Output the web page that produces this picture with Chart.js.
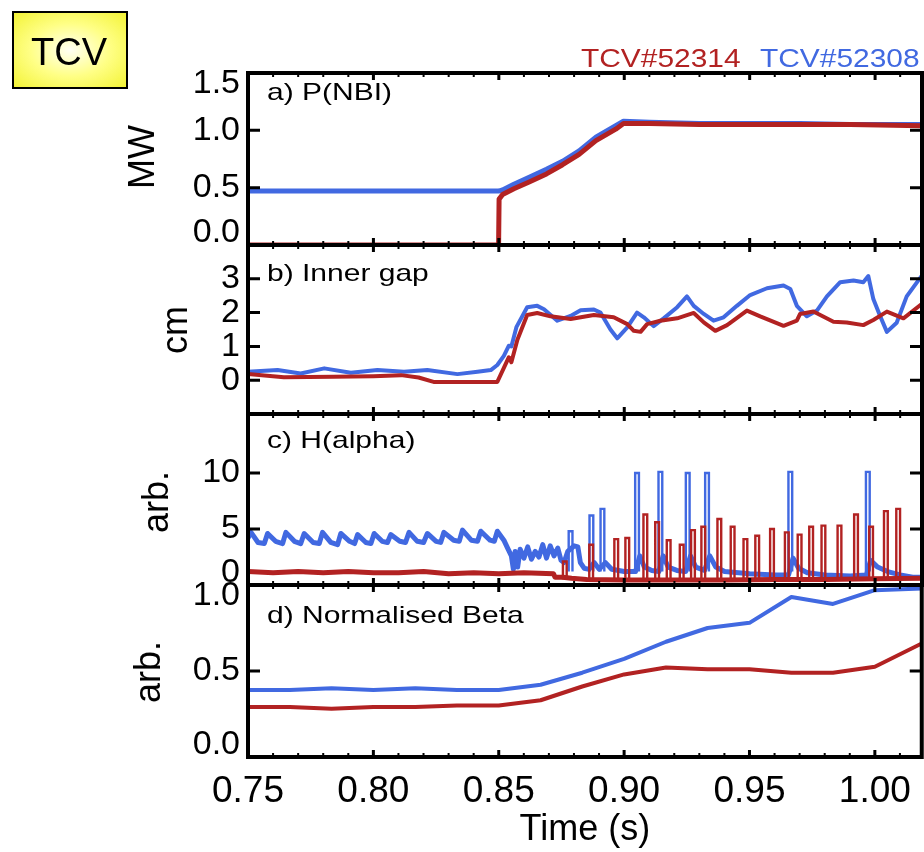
<!DOCTYPE html>
<html>
<head>
<meta charset="utf-8">
<title>TCV #52314 / #52308</title>
<script src="https://cdn.jsdelivr.net/npm/chart.js@4.4.1/dist/chart.umd.min.js"></script>
<style>
  html, body { margin:0; padding:0; background:#fff; }
  #fig { position:relative; width:924px; height:852px; overflow:hidden;
         font-family:"Liberation Sans", Arial, Helvetica, sans-serif; color:#000; }
  #fig canvas { position:absolute; left:0; top:0; width:924px; height:852px; }
  .t { position:absolute; white-space:nowrap; line-height:1; transform-origin:0 0; }
  .lab { font-size:24px; transform:scaleX(1.25); }
  .ytitle { position:absolute; white-space:nowrap; line-height:1; font-size:36px;
            transform:translate(-50%,-50%) rotate(-90deg); }
  #tcv { position:absolute; left:12px; top:11px; width:112px; height:74px; border:2px solid #000;
         background:radial-gradient(ellipse at 50% 50%, #fffff4 0%, #ffff86 50%, #f3f336 100%); }
</style>
</head>
<body>
<div id="fig">
  <canvas id="cA" width="924" height="852"></canvas>
  <canvas id="cB" width="924" height="852"></canvas>
  <canvas id="cC" width="924" height="852"></canvas>
  <canvas id="cD" width="924" height="852"></canvas>

  <div id="tcv"></div>
  <div class="t" style="left:31px;top:32.8px;font-size:38px;">TCV</div>

  <div class="t" style="left:581px;top:44.7px;font-size:26px;color:#b22222;transform:scaleX(1.15);">TCV#52314</div>
  <div class="t" style="left:760px;top:44.7px;font-size:26px;color:#4169e1;transform:scaleX(1.15);">TCV#52308</div>

  <div class="t lab" style="left:267px;top:79.7px;">a) P(NBI)</div>
  <div class="t lab" style="left:267px;top:261.4px;">b) Inner gap</div>
  <div class="t lab" style="left:267px;top:427.7px;">c) H(alpha)</div>
  <div class="t lab" style="left:267px;top:603px;">d) Normalised Beta</div>

  <div class="ytitle" style="left:142px;top:157px;">MW</div>
  <div class="ytitle" style="left:175px;top:330px;">cm</div>
  <div class="ytitle" style="left:156px;top:502px;">arb.</div>
  <div class="ytitle" style="left:148px;top:672px;">arb.</div>
</div>

<script>
const RED = '#b22222';
const BLUE = '#4169e1';
const FONT = '"Liberation Sans", Arial, Helvetica, sans-serif';
const T_MIN = 0.75, T_MAX = 1.0187;
const timeTicks = [0.75, 0.80, 0.85, 0.90, 0.95, 1.00];

// a) NBI power, MW
const nbiT_52314 = [0.750, 0.8499, 0.8501, 0.8515, 0.8560, 0.8621, 0.8690, 0.8754, 0.8820,
                    0.8887, 0.8966, 0.8997, 0.910, 0.930, 0.950, 0.970, 0.990, 1.0187];
const nbi_52314  = [0.00, 0.00, 0.40, 0.44, 0.49, 0.55, 0.62, 0.70, 0.79,
                    0.91, 1.01, 1.06, 1.06, 1.05, 1.05, 1.05, 1.05, 1.04];
const nbiT_52308 = [0.750, 0.800, 0.8499, 0.8515, 0.8560, 0.8621, 0.8690, 0.8754, 0.8820,
                    0.8887, 0.8966, 0.8997, 0.910, 0.930, 0.950, 0.970, 0.990, 1.0187];
const nbi_52308  = [0.47, 0.47, 0.47, 0.48, 0.53, 0.59, 0.66, 0.73, 0.82,
                    0.94, 1.04, 1.08, 1.07, 1.06, 1.06, 1.06, 1.05, 1.05];

// b) inner gap, cm
const gapT_52314 = [0.750, 0.7643, 0.784, 0.800, 0.811, 0.818, 0.824, 0.8494, 0.854, 0.855,
                    0.8574, 0.8613, 0.8653, 0.8706, 0.8786, 0.8879, 0.8958, 0.9012, 0.9038, 0.9065,
                    0.9091, 0.9144, 0.9211, 0.9277, 0.9317, 0.9363, 0.941, 0.9489, 0.9542, 0.9635,
                    0.9688, 0.9701, 0.9754, 0.9834, 0.9887, 0.9953, 0.9993, 1.0047, 1.0113, 1.0187];
const gap_52314  = [0.18, 0.09, 0.10, 0.12, 0.15, 0.08, -0.05, -0.05, 0.68, 0.53,
                    1.20, 1.93, 1.99, 1.89, 1.81, 1.93, 1.86, 1.66, 1.46, 1.43,
                    1.66, 1.76, 1.83, 1.99, 1.71, 1.46, 1.63, 2.06, 1.89, 1.61,
                    1.76, 1.96, 2.03, 1.73, 1.71, 1.63, 1.78, 2.03, 1.83, 2.26];
const gapT_52308 = [0.750, 0.7618, 0.771, 0.7804, 0.791, 0.8016, 0.8122, 0.8215, 0.8335, 0.8415,
                    0.8468, 0.8494, 0.852, 0.854, 0.855, 0.857, 0.8613, 0.8653, 0.868, 0.8733,
                    0.8786, 0.8826, 0.8879, 0.8905, 0.8945, 0.8972, 0.9012, 0.9051, 0.9078, 0.9117,
                    0.9157, 0.9211, 0.925, 0.9277, 0.9317, 0.9356, 0.9396, 0.9449, 0.9502, 0.9569,
                    0.9635, 0.9662, 0.9688, 0.9728, 0.9768, 0.9808, 0.9861, 0.9914, 0.9953, 0.9973,
                    0.9993, 1.002, 1.0047, 1.0086, 1.0126, 1.0187];
const gap_52308  = [0.25, 0.30, 0.20, 0.35, 0.22, 0.30, 0.25, 0.30, 0.18, 0.25,
                    0.30, 0.45, 0.72, 1.02, 1.00, 1.57, 2.16, 2.20, 2.10, 1.76,
                    1.90, 2.07, 2.09, 2.00, 1.50, 1.24, 1.56, 2.00, 1.86, 1.60,
                    1.83, 2.16, 2.48, 2.20, 1.96, 1.76, 1.86, 2.20, 2.52, 2.72,
                    2.80, 2.70, 2.20, 1.89, 2.06, 2.48, 2.90, 2.95, 2.90, 3.08,
                    2.40, 1.90, 1.43, 1.70, 2.48, 3.10];

// c) H-alpha background level, arb.
const haT_52314 = [0.750, 0.760, 0.770, 0.780, 0.790, 0.800, 0.810, 0.820, 0.830, 0.840,
                   0.850, 0.860, 0.8718, 0.8724, 0.8755, 0.8790, 0.8850, 0.900, 0.920, 0.940,
                   0.960, 0.980, 1.000, 1.0187];
const ha_52314  = [1.2, 1.1, 1.2, 1.1, 1.2, 1.1, 1.1, 1.2, 1.0, 1.1,
                   1.0, 1.1, 1.0, 0.7, 0.7, 0.6, 0.5, 0.45, 0.45, 0.45,
                   0.5, 0.5, 0.55, 0.6];
const haT_52308 = [0.7500, 0.7512, 0.7540, 0.7565, 0.7578, 0.7610, 0.7638, 0.7651, 0.7685, 0.7710,
                   0.7724, 0.7760, 0.7784, 0.7797, 0.7830, 0.7857, 0.7870, 0.7905, 0.7925, 0.7937,
                   0.7970, 0.7990, 0.8003, 0.8035, 0.8056, 0.8069, 0.8105, 0.8128, 0.8142, 0.8175,
                   0.8200, 0.8215, 0.8250, 0.8268, 0.8281, 0.8320, 0.8342, 0.8355, 0.8390, 0.8415,
                   0.8428, 0.8465, 0.8482, 0.8494, 0.8520, 0.8535, 0.8550, 0.8558, 0.8565, 0.8575,
                   0.8585, 0.8600, 0.8615, 0.8630, 0.8645, 0.8660, 0.8675, 0.8690, 0.8705, 0.8720,
                   0.8735, 0.8748, 0.8760, 0.8775, 0.8800, 0.8815, 0.8825, 0.8840, 0.8860, 0.8880,
                   0.8900, 0.8925, 0.8950, 0.9000, 0.9045, 0.9062, 0.9080, 0.9110, 0.9138, 0.9155,
                   0.9175, 0.9210, 0.9245, 0.9264, 0.9285, 0.9320, 0.9341, 0.9365, 0.9400, 0.9500,
                   0.9600, 0.9655, 0.9673, 0.9695, 0.9730, 0.9800, 0.9900, 0.9965, 0.9982, 1.0010,
                   1.0050, 1.0100, 1.0150, 1.0187];
const ha_52308  = [4.2, 4.7, 3.8, 3.7, 4.6, 3.9, 3.7, 4.7, 3.9, 3.7,
                   4.6, 3.8, 3.7, 4.7, 3.8, 3.6, 4.6, 3.9, 3.7, 4.5,
                   3.8, 3.7, 4.6, 3.9, 3.8, 4.5, 3.9, 3.8, 4.7, 3.9,
                   3.8, 4.6, 3.9, 3.8, 4.7, 4.0, 3.9, 4.9, 4.0, 3.9,
                   4.8, 4.0, 3.9, 4.8, 4.0, 3.3, 2.6, 1.4, 3.0, 1.6,
                   3.2, 2.4, 3.4, 2.3, 3.0, 2.5, 3.6, 2.4, 3.5, 2.6,
                   3.3, 2.2, 2.0, 3.0, 3.5, 3.4, 2.0, 1.5, 1.4, 2.0,
                   1.4, 2.0, 1.4, 1.2, 1.2, 2.6, 1.6, 1.3, 1.2, 2.6,
                   1.6, 1.3, 1.2, 2.6, 1.6, 1.3, 2.6, 1.6, 1.2, 1.0,
                   0.9, 0.9, 2.4, 1.5, 1.1, 0.9, 0.8, 0.9, 2.2, 1.6,
                   1.2, 0.9, 0.7, 0.7];

// c) ELM bursts: time, peak height, level they rise from
const elmT_52314 = [0.8763, 0.8868, 0.8968, 0.9012, 0.9084, 0.9131, 0.9177, 0.9229, 0.9274, 0.9315,
                    0.9379, 0.9432, 0.9483, 0.9530, 0.9589, 0.9648, 0.9699, 0.9745, 0.9794, 0.9858,
                    0.9924, 0.9984, 1.0043, 1.0092];
const elmPk_52314 = [2.1, 3.6, 4.1, 4.2, 6.3, 5.6, 4.0, 3.6, 4.9, 5.2,
                     5.9, 5.2, 4.1, 4.4, 5.0, 4.7, 4.5, 5.2, 5.3, 5.3,
                     6.3, 5.2, 6.6, 6.8];
const elmBase_52314 = 0.5;
const elmT_52308 = [0.8786, 0.8869, 0.8913, 0.9051, 0.9144, 0.9253, 0.9330, 0.9662, 0.9971];
const elmPk_52308 = [4.8, 6.2, 6.8, 10.0, 10.1, 10.0, 10.0, 10.1, 10.1];
const elmBase_52308 = 1.2;
const elmWidth = 0.0015;   // s

// d) normalised beta, arb.
const betaT = [0.7500, 0.7667, 0.7833, 0.8000, 0.8167, 0.8333, 0.8500, 0.8667, 0.8833,
               0.9000, 0.9167, 0.9333, 0.9500, 0.9667, 0.9833, 1.0000, 1.0187];
const beta_52308 = [0.39, 0.39, 0.40, 0.39, 0.40, 0.39, 0.39, 0.42, 0.49,
                    0.57, 0.67, 0.75, 0.78, 0.93, 0.89, 0.97, 0.98];
const beta_52314 = [0.29, 0.29, 0.28, 0.29, 0.29, 0.30, 0.30, 0.33, 0.41,
                    0.48, 0.52, 0.51, 0.51, 0.49, 0.49, 0.525, 0.66];

function xy(ts, vs){
  return ts.map((t, i) => ({x: t, y: vs[i]}));
}

// square pulse for every burst, separated by gaps
function pulses(ts, peaks, base, w){
  const out = [];
  ts.forEach((t, i) => {
    const a = t - w/2, b = t + w/2;
    out.push({x: a, y: base}, {x: a, y: peaks[i]}, {x: b, y: peaks[i]}, {x: b, y: base}, {x: b, y: null});
  });
  return out;
}

function line(data, color, width, extra){
  return Object.assign({data, borderColor: color, borderWidth: width, pointRadius: 0, fill: false}, extra || {});
}

// box, inward ticks and y labels for one panel
function framePlugin(yTicks, fmt){
  return {
    id: 'frame',
    afterDatasetsDraw(chart){
      const {ctx, chartArea: a, scales: {x, y}} = chart;
      ctx.save();
      ctx.strokeStyle = '#000';
      for(let k = 75; k <= 101; k++){
        const px = x.getPixelForValue(k / 100);
        const major = k % 5 === 0;
        const len = major ? 7 : 4;
        ctx.lineWidth = major ? 3 : 2;
        ctx.beginPath();
        ctx.moveTo(px, a.top); ctx.lineTo(px, a.top + len);
        ctx.moveTo(px, a.bottom); ctx.lineTo(px, a.bottom - len);
        ctx.stroke();
      }
      ctx.lineWidth = 3;
      yTicks.forEach(v => {
        const py = y.getPixelForValue(v);
        ctx.beginPath();
        ctx.moveTo(a.left, py); ctx.lineTo(a.left + 12, py);
        ctx.moveTo(a.right, py); ctx.lineTo(a.right - 12, py);
        ctx.stroke();
      });
      ctx.lineWidth = 4;
      ctx.strokeRect(a.left, a.top, a.right - a.left, a.bottom - a.top);

      ctx.fillStyle = '#000';
      ctx.font = '34px ' + FONT;
      ctx.textAlign = 'right';
      ctx.textBaseline = 'middle';
      yTicks.forEach(v => {
        let py = y.getPixelForValue(v);
        // edge labels sit just inside the panel
        if(py - a.top < 3) py += 11;
        else if(a.bottom - py < 3) py -= 12;
        ctx.fillText(fmt(v), 240, py);
      });
      ctx.restore();
    }
  };
}

function panel(id, cfg){
  const timeAxis = !!cfg.timeAxis;
  return new Chart(document.getElementById(id), {
    type: 'line',
    data: {datasets: cfg.datasets},
    options: {
      responsive: false,
      animation: false,
      events: [],
      layout: {padding: {left: 248, right: 2, top: cfg.top, bottom: timeAxis ? 0 : 852 - cfg.bottom}},
      plugins: {legend: {display: false}, tooltip: {enabled: false}},
      elements: {point: {radius: 0}, line: {tension: 0, borderJoinStyle: 'round'}},
      scales: {
        x: {
          type: 'linear', min: T_MIN, max: T_MAX, display: timeAxis,
          grid: {display: false, drawTicks: false},
          border: {display: false},
          afterBuildTicks: s => { s.ticks = timeTicks.map(v => ({value: v})); },
          afterFit: s => { if(timeAxis) s.height = 852 - cfg.bottom; },
          ticks: {
            color: '#000', font: {family: FONT, size: 37}, padding: 13,
            maxRotation: 0, minRotation: 0, autoSkip: false,
            callback: v => Number(v).toFixed(2)
          },
          title: {display: true, text: 'Time (s)', color: '#000', font: {family: FONT, size: 36}, padding: 0}
        },
        y: {type: 'linear', min: cfg.min, max: cfg.max, display: false}
      }
    },
    plugins: [framePlugin(cfg.ticks, cfg.fmt)]
  });
}

const f1 = v => v.toFixed(1);
const f0 = v => String(v);

panel('cA', {
  top: 73, bottom: 245, min: 0, max: 1.5, ticks: [0, 0.5, 1.0, 1.5], fmt: f1,
  datasets: [
    line(xy(nbiT_52314, nbi_52314), RED, 5),
    line(xy(nbiT_52308, nbi_52308), BLUE, 5)
  ]
});

panel('cB', {
  top: 245, bottom: 414, min: -1, max: 4, ticks: [0, 1, 2, 3], fmt: f0,
  datasets: [
    line(xy(gapT_52314, gap_52314), RED, 4),
    line(xy(gapT_52308, gap_52308), BLUE, 4)
  ]
});

panel('cC', {
  top: 414, bottom: 585, min: 0, max: 15.27, ticks: [0, 5, 10], fmt: f0,
  datasets: [
    line(pulses(elmT_52314, elmPk_52314, elmBase_52314, elmWidth), RED, 2.4, {borderJoinStyle: 'miter'}),
    line(xy(haT_52314, ha_52314), RED, 5),
    line(pulses(elmT_52308, elmPk_52308, elmBase_52308, elmWidth), BLUE, 2.4, {borderJoinStyle: 'miter'}),
    line(xy(haT_52308, ha_52308), BLUE, 5)
  ]
});

panel('cD', {
  top: 585, bottom: 757, min: 0, max: 1.0, ticks: [0, 0.5, 1.0], fmt: f1, timeAxis: true,
  datasets: [
    line(xy(betaT, beta_52314), RED, 4),
    line(xy(betaT, beta_52308), BLUE, 4)
  ]
});
</script>
</body>
</html>
